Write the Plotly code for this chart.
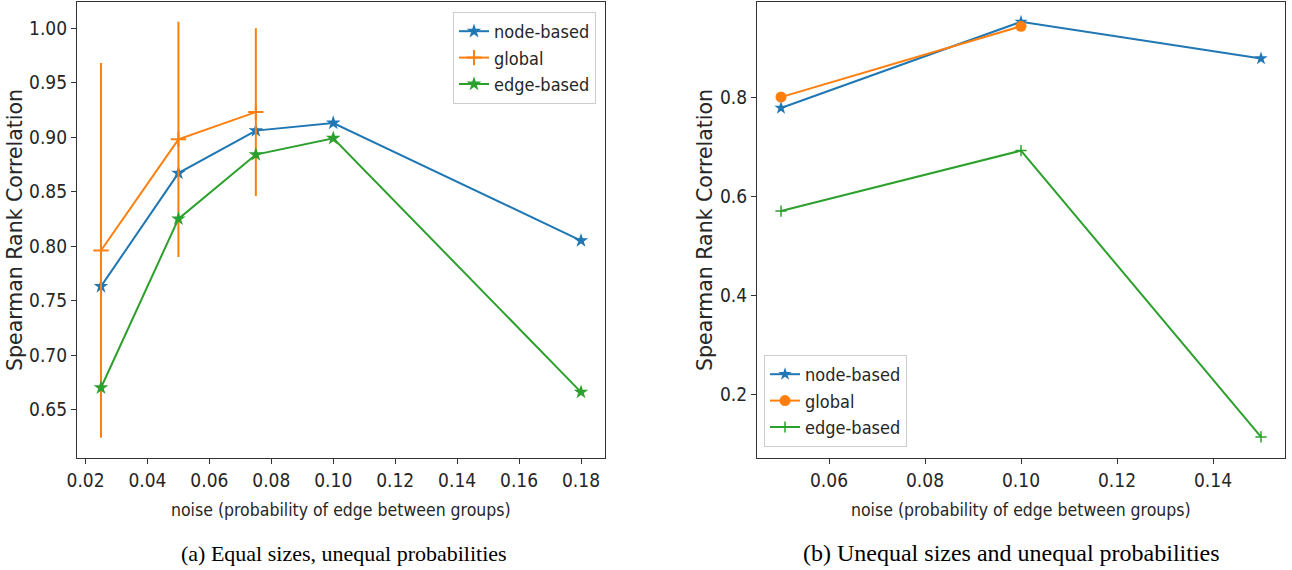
import plotly.graph_objects as go

# ---- data: panel (a) ----
a_x = [0.025, 0.05, 0.075, 0.10, 0.18]
a_node = [0.763, 0.867, 0.906, 0.913, 0.805]
a_global_x = [0.025, 0.05, 0.075]
a_global = [0.796, 0.898, 0.923]
a_global_err = [0.172, 0.108, 0.077]
a_edge = [0.670, 0.825, 0.884, 0.899, 0.666]

# ---- data: panel (b) ----
b_x = [0.05, 0.10, 0.15]
b_node = [0.779, 0.953, 0.879]
b_global_x = [0.05, 0.10]
b_global = [0.801, 0.944]
b_edge = [0.571, 0.693, 0.115]

a_xticks = [0.02, 0.04, 0.06, 0.08, 0.10, 0.12, 0.14, 0.16, 0.18]
a_yticks = [0.65, 0.70, 0.75, 0.80, 0.85, 0.90, 0.95, 1.00]
b_xticks = [0.06, 0.08, 0.10, 0.12, 0.14]
b_yticks = [0.2, 0.4, 0.6, 0.8]

BLUE, ORANGE, GREEN = "#1f77b4", "#ff7f0e", "#2ca02c"
SANS = "DejaVu Sans Condensed, Liberation Sans Narrow, Roboto, DejaVu Sans, sans-serif"
SANS_REG = "DejaVu Sans, sans-serif"
SERIF = "Liberation Serif, Times New Roman, serif"
TXT = "#262626"

W, H = 1292, 570
fig = go.Figure()

# panel (a)
fig.add_trace(go.Scatter(x=a_x, y=a_node, name="node-based", mode="lines+markers",
                         line=dict(color=BLUE, width=2),
                         marker=dict(symbol="star", size=11, color=BLUE, line=dict(width=0)),
                         xaxis="x", yaxis="y", legend="legend"))
fig.add_trace(go.Scatter(x=a_global_x, y=a_global, name="global", mode="lines+markers",
                         line=dict(color=ORANGE, width=2),
                         marker=dict(symbol="cross-thin", size=11, color=ORANGE,
                                     line=dict(width=2, color=ORANGE)),
                         error_y=dict(type="data", array=a_global_err, visible=True,
                                      color=ORANGE, thickness=2, width=0),
                         xaxis="x", yaxis="y", legend="legend"))
fig.add_trace(go.Scatter(x=a_x, y=a_edge, name="edge-based", mode="lines+markers",
                         line=dict(color=GREEN, width=2),
                         marker=dict(symbol="star", size=11, color=GREEN, line=dict(width=0)),
                         xaxis="x", yaxis="y", legend="legend"))

# panel (b)
fig.add_trace(go.Scatter(x=b_x, y=b_node, name="node-based", mode="lines+markers",
                         line=dict(color=BLUE, width=2),
                         marker=dict(symbol="star", size=10, color=BLUE, line=dict(width=0)),
                         xaxis="x2", yaxis="y2", legend="legend2"))
fig.add_trace(go.Scatter(x=b_global_x, y=b_global, name="global", mode="lines+markers",
                         line=dict(color=ORANGE, width=2),
                         marker=dict(symbol="circle", size=11, color=ORANGE, line=dict(width=0)),
                         xaxis="x2", yaxis="y2", legend="legend2"))
fig.add_trace(go.Scatter(x=b_x, y=b_edge, name="edge-based", mode="lines+markers",
                         line=dict(color=GREEN, width=2),
                         marker=dict(symbol="cross-thin", size=8, color=GREEN,
                                     line=dict(width=1.5, color=GREEN)),
                         xaxis="x2", yaxis="y2", legend="legend2"))

def px_x(p):
    return p / W

def px_y(p):
    return 1 - p / H

axis_common = dict(showline=True, mirror=True, linecolor="#333333", linewidth=1.2,
                   ticks="outside", ticklen=5, tickwidth=1, tickcolor="#333333",
                   showgrid=False, zeroline=False, automargin=False,
                   tickfont=dict(family=SANS, size=19, color=TXT))

top_y, bot_y = 1.5, 458

legend_common = dict(bgcolor="rgba(255,255,255,0.8)", bordercolor="#cccccc", borderwidth=1,
                     font=dict(family=SANS, size=18, color=TXT), tracegroupgap=0)

fig.update_layout(
    width=W, height=H,
    margin=dict(l=0, r=0, t=0, b=0, autoexpand=False),
    paper_bgcolor="white", plot_bgcolor="white",
    xaxis=dict(domain=[px_x(77), px_x(605)], range=[0.01725, 0.18775],
               tickvals=a_xticks, tickformat=".2f", anchor="y", **axis_common),
    yaxis=dict(domain=[px_y(bot_y), px_y(top_y)], range=[0.6055, 1.0245],
               tickvals=a_yticks, tickformat=".2f", anchor="x", **axis_common),
    xaxis2=dict(domain=[px_x(757), px_x(1285)], range=[0.045, 0.155],
                tickvals=b_xticks, tickformat=".2f", anchor="y2", **axis_common),
    yaxis2=dict(domain=[px_y(bot_y), px_y(top_y)], range=[0.0725, 0.994],
                tickvals=b_yticks, tickformat=".1f", anchor="x2", **axis_common),
    legend=dict(x=px_x(596), y=px_y(12), xanchor="right", yanchor="top", **legend_common),
    legend2=dict(x=px_x(764), y=px_y(447), xanchor="left", yanchor="bottom", **legend_common),
    showlegend=True,
)

ann = []
# x-axis titles
for cx in (341, 1021):
    ann.append(dict(text="noise (probability of edge between groups)", x=px_x(cx), y=px_y(510),
                    xref="paper", yref="paper", showarrow=False, xanchor="center", yanchor="middle",
                    font=dict(family=SANS, size=17.5, color=TXT)))
# y-axis titles
for cx in (15, 705):
    ann.append(dict(text="Spearman Rank Correlation", x=px_x(cx), y=px_y(230),
                    xref="paper", yref="paper", showarrow=False, textangle=-90,
                    xanchor="center", yanchor="middle",
                    font=dict(family=SANS_REG, size=20.5, color=TXT)))
# captions
ann.append(dict(text="(a) Equal sizes, unequal probabilities", x=px_x(344), y=px_y(553),
                xref="paper", yref="paper", showarrow=False, xanchor="center", yanchor="middle",
                font=dict(family=SERIF, size=22, color="black")))
ann.append(dict(text="(b) Unequal sizes and unequal probabilities", x=px_x(1011), y=px_y(553),
                xref="paper", yref="paper", showarrow=False, xanchor="center", yanchor="middle",
                font=dict(family=SERIF, size=24, color="black")))
fig.update_layout(annotations=ann)

fig.write_html("out.html")
